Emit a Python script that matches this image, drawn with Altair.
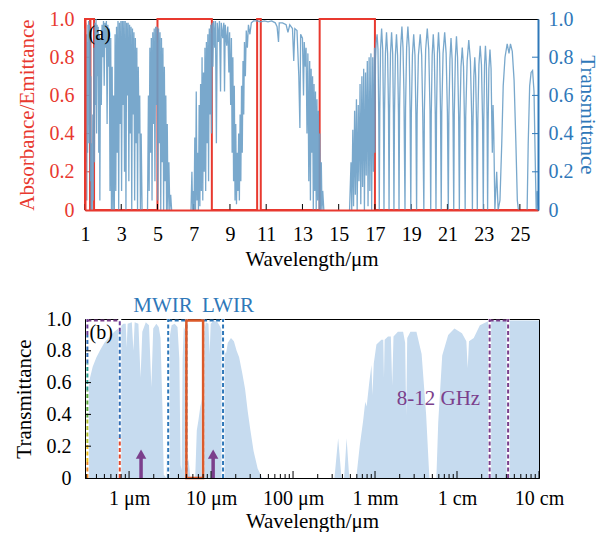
import altair as alt
import pandas as pd

# ---------------- data: panel (a) atmospheric transmittance (lambda um, T) ----------------
TRANS_SEG1 = [
    (1.00, 0.95), (1.02, 0.40), (1.04, 0.98), (1.06, 0.25), (1.08, 0.92), (1.10, 0.05), (1.12, 0.88),
    (1.14, 0.30), (1.16, 0.97), (1.18, 0.55), (1.20, 0.99), (1.22, 0.35), (1.24, 0.97), (1.26, 0.60),
    (1.28, 0.95), (1.30, 0.15), (1.32, 0.70), (1.34, 0.00), (1.37, 0.35), (1.40, 0.00), (1.43, 0.50),
    (1.46, 0.05), (1.49, 0.85), (1.52, 0.25), (1.55, 0.98), (1.58, 0.55), (1.61, 1.00), (1.64, 0.40),
    (1.67, 0.97), (1.70, 0.70), (1.73, 0.96), (1.76, 0.30), (1.79, 0.92), (1.82, 0.05),
    (1.86, 0.90), (1.90, 0.55), (1.94, 0.97), (1.98, 0.80), (2.02, 0.99), (2.06, 0.65), (2.10, 0.98),
    (2.14, 0.85), (2.18, 0.99), (2.22, 0.45), (2.26, 0.97), (2.30, 0.75), (2.34, 0.95), (2.38, 0.10),
    (2.42, 0.90), (2.46, 0.00), (2.50, 0.75), (2.54, 0.00), (2.58, 0.60), (2.62, 0.00),
    (2.66, 0.92), (2.70, 0.10), (2.74, 0.96), (2.78, 0.30), (2.82, 0.99), (2.86, 0.00), (2.90, 0.98),
    (2.94, 0.45), (2.98, 0.99), (3.02, 0.10), (3.06, 0.99), (3.10, 0.55), (3.14, 0.99), (3.18, 0.20),
    (3.22, 0.99), (3.26, 0.00), (3.30, 0.98), (3.34, 0.60), (3.38, 0.98), (3.42, 0.15), (3.46, 0.97),
    (3.50, 0.40), (3.54, 0.96), (3.58, 0.00), (3.62, 0.95), (3.66, 0.50), (3.70, 0.93), (3.74, 0.05),
    (3.78, 0.90), (3.82, 0.35), (3.86, 0.85), (3.90, 0.00), (3.94, 0.75), (3.98, 0.40), (4.02, 0.60),
    (4.06, 0.00), (4.10, 0.40), (4.15, 0.00),
]
TRANS_SEG2 = [
    (4.45, 0.00), (4.50, 0.60), (4.54, 0.10), (4.58, 0.85), (4.62, 0.30), (4.66, 0.90), (4.70, 0.05),
    (4.74, 0.93), (4.78, 0.45), (4.82, 0.95), (4.86, 0.15), (4.90, 0.96), (4.94, 0.55), (4.98, 0.96),
    (5.02, 0.05), (5.06, 0.95), (5.10, 0.35), (5.14, 0.93), (5.18, 0.00), (5.22, 0.90), (5.26, 0.25),
    (5.30, 0.85), (5.34, 0.00), (5.38, 0.75), (5.42, 0.15), (5.46, 0.60), (5.50, 0.00), (5.54, 0.45),
    (5.58, 0.00), (5.63, 0.25), (5.68, 0.00), (5.73, 0.08), (5.78, 0.00),
]
TRANS_SEG3 = [
    (6.85, 0.00), (6.90, 0.20), (6.94, 0.00), (6.98, 0.10), (7.02, 0.00), (7.06, 0.38), (7.10, 0.00),
    (7.14, 0.62), (7.18, 0.05), (7.22, 0.30), (7.26, 0.00), (7.30, 0.55), (7.34, 0.02), (7.38, 0.66),
    (7.42, 0.10), (7.46, 0.80), (7.50, 0.05), (7.54, 0.72), (7.58, 0.20), (7.62, 0.85), (7.66, 0.10),
    (7.70, 0.88), (7.74, 0.35), (7.78, 0.92), (7.82, 0.15), (7.86, 0.95), (7.90, 0.50), (7.94, 0.97),
    (7.98, 0.40),
    (8.02, 0.98), (8.06, 0.75), (8.10, 0.99), (8.16, 0.85), (8.20, 0.99), (8.25, 0.35), (8.30, 0.98),
    (8.36, 0.88), (8.42, 0.99), (8.48, 0.62), (8.52, 0.98), (8.60, 0.90), (8.66, 0.98), (8.70, 0.62),
    (8.74, 0.97), (8.82, 0.86), (8.88, 0.96), (8.94, 0.72), (8.98, 0.93), (9.04, 0.55), (9.08, 0.90),
    (9.12, 0.30), (9.16, 0.80), (9.20, 0.15), (9.24, 0.65), (9.28, 0.05), (9.32, 0.45), (9.36, 0.03),
    (9.40, 0.30), (9.44, 0.10), (9.48, 0.40), (9.52, 0.05), (9.56, 0.50), (9.60, 0.15), (9.64, 0.65),
    (9.68, 0.30), (9.72, 0.78), (9.76, 0.50), (9.80, 0.88), (9.85, 0.70), (9.90, 0.94), (9.96, 0.85),
    (10.02, 0.97), (10.10, 0.92), (10.18, 0.98), (10.30, 0.99), (10.50, 0.99),
    (10.70, 0.985), (10.90, 0.99), (11.10, 0.985), (11.30, 0.99), (11.50, 0.98), (11.60, 0.96),
    (11.68, 0.88), (11.72, 0.98), (11.90, 0.98), (12.10, 0.97), (12.20, 0.93), (12.30, 0.97),
    (12.45, 0.95), (12.52, 0.78), (12.58, 0.95), (12.70, 0.94), (12.80, 0.70), (12.86, 0.43),
    (12.90, 0.92), (13.00, 0.90), (13.06, 0.60), (13.10, 0.88), (13.16, 0.75), (13.20, 0.85),
    (13.25, 0.40), (13.30, 0.82),
    (13.35, 0.15), (13.40, 0.78), (13.44, 0.05), (13.48, 0.74), (13.52, 0.30), (13.56, 0.70),
    (13.60, 0.00), (13.64, 0.66), (13.68, 0.10), (13.72, 0.62), (13.76, 0.00), (13.80, 0.58),
    (13.84, 0.05), (13.88, 0.52), (13.92, 0.00), (13.96, 0.40), (14.00, 0.00), (14.04, 0.25),
    (14.08, 0.00), (14.12, 0.10), (14.18, 0.00),
]
TRANS_SEG4 = [
    (15.60, 0.00), (15.68, 0.25), (15.72, 0.00), (15.78, 0.42), (15.82, 0.02), (15.88, 0.52),
    (15.92, 0.08), (15.98, 0.58), (16.02, 0.00), (16.08, 0.55), (16.12, 0.15), (16.18, 0.66),
    (16.22, 0.03), (16.28, 0.70), (16.32, 0.12), (16.38, 0.74), (16.42, 0.00), (16.48, 0.72),
    (16.52, 0.18), (16.58, 0.78), (16.62, 0.02), (16.68, 0.80), (16.72, 0.10), (16.78, 0.82),
    (16.82, 0.00), (16.88, 0.80), (16.92, 0.20), (16.98, 0.85),
]
TRANS_SEG5 = [
    (17.00, 0.30), (17.03, 0.78), (17.07, 0.88), (17.12, 0.92), (17.17, 0.84), (17.21, 0.50), (17.24, 0.00),
    (17.27, 0.52), (17.31, 0.84), (17.37, 0.95), (17.43, 0.84), (17.47, 0.52), (17.50, 0.00),
    (17.53, 0.51), (17.58, 0.82), (17.64, 0.93), (17.70, 0.82), (17.75, 0.51), (17.78, 0.00),
    (17.81, 0.51), (17.86, 0.82), (17.92, 0.93), (17.98, 0.82), (18.02, 0.51), (18.05, 0.00),
    (18.08, 0.50), (18.13, 0.81), (18.19, 0.92), (18.25, 0.81), (18.30, 0.50), (18.33, 0.00),
    (18.36, 0.53), (18.42, 0.85), (18.49, 0.96), (18.55, 0.85), (18.60, 0.62), (18.63, 0.30), (18.66, 0.00),
    (18.69, 0.53), (18.75, 0.85), (18.82, 0.96), (18.89, 0.85), (18.94, 0.53), (18.98, 0.00),
    (19.01, 0.50), (19.07, 0.81), (19.14, 0.92), (19.21, 0.81), (19.26, 0.50), (19.30, 0.00),
    (19.33, 0.50), (19.40, 0.81), (19.50, 0.92), (19.58, 0.81), (19.64, 0.50), (19.70, 0.00),
    (19.73, 0.52), (19.80, 0.84), (19.89, 0.95), (19.97, 0.84), (20.04, 0.52), (20.08, 0.00),
    (20.11, 0.50), (20.16, 0.81), (20.22, 0.92), (20.28, 0.81), (20.33, 0.50), (20.37, 0.00),
    (20.40, 0.51), (20.45, 0.82), (20.51, 0.93), (20.57, 0.82), (20.62, 0.51), (20.66, 0.00),
    (20.69, 0.51), (20.76, 0.82), (20.85, 0.93), (20.93, 0.82), (21.00, 0.51), (21.05, 0.00),
    (21.08, 0.49), (21.14, 0.79), (21.20, 0.90), (21.26, 0.79), (21.31, 0.49), (21.35, 0.00),
    (21.38, 0.50), (21.44, 0.80), (21.50, 0.91), (21.56, 0.80), (21.62, 0.50), (21.66, 0.00),
    (21.69, 0.47), (21.75, 0.75), (21.82, 0.85), (21.89, 0.75), (21.94, 0.47), (21.98, 0.00),
    (22.01, 0.49), (22.09, 0.78), (22.18, 0.89), (22.27, 0.78), (22.34, 0.49), (22.38, 0.00),
    (22.41, 0.44), (22.46, 0.70), (22.51, 0.80), (22.56, 0.70), (22.61, 0.44), (22.65, 0.00),
    (22.68, 0.47), (22.74, 0.76), (22.81, 0.86), (22.88, 0.76), (22.94, 0.47), (22.98, 0.00),
    (23.01, 0.47), (23.05, 0.76), (23.10, 0.86), (23.15, 0.76), (23.19, 0.47), (23.22, 0.00),
    (23.25, 0.46), (23.29, 0.74), (23.35, 0.84), (23.41, 0.74), (23.45, 0.46), (23.48, 0.30),
    (23.52, 0.55), (23.56, 0.40), (23.62, 0.00), (23.72, 0.20), (23.80, 0.00), (23.90, 0.05),
    (24.00, 0.35), (24.08, 0.65), (24.18, 0.80), (24.30, 0.87), (24.40, 0.82), (24.48, 0.87),
    (24.58, 0.83), (24.68, 0.68), (24.78, 0.35), (24.86, 0.05), (24.92, 0.00),
]
TRANS_SEG6 = [
    (25.40, 0.00), (25.46, 0.35), (25.54, 0.65), (25.62, 0.72), (25.70, 0.73), (25.78, 0.62),
    (25.84, 0.30), (25.90, 0.00), (25.96, 0.10), (26.00, 0.00),
]

# panel (a) emitter absorbance/emittance (step profile)
EMIT_LAM = [1.0, 1.0, 1.28, 1.28, 1.30, 1.30, 1.5, 1.5, 5.0, 5.0, 8.0, 8.0, 10.5, 10.5, 10.7, 10.7,
            13.95, 13.95, 17.0, 17.0, 26.0]
EMIT_VAL = [0, 1, 1, 0, 0, 1, 1, 0, 0, 1, 1, 0, 0, 1, 1, 0, 0, 1, 1, 0, 0]

X_TICKS_TOP = [1, 3, 5, 7, 9, 11, 13, 15, 17, 19, 21, 23, 25]
Y_TICKS = [0, 0.2, 0.4, 0.6, 0.8, 1.0]
Y_INNER = [0.2, 0.4, 0.6, 0.8]

# ---------------- data: panel (b) broadband transmittance ----------------
BOT_LAM = [0.29, 0.31, 0.33, 0.36, 0.40, 0.45, 0.50, 0.58, 0.66, 0.74, 0.76, 0.775, 0.85, 0.91, 0.935,
           0.96, 1.08, 1.13, 1.17, 1.30, 1.38, 1.45, 1.6, 1.75, 1.87, 1.97, 2.15, 2.3, 2.42, 2.55, 2.65,
           2.85, 2.95, 3.05, 3.3, 3.6, 3.9, 4.1, 4.25, 4.38, 4.5, 4.65, 4.85, 5.0, 5.1, 5.35, 5.6, 6.4,
           6.7, 7.0, 7.4, 7.8, 8.0, 8.2, 8.6, 9.3, 9.6, 9.9, 10.8, 12.0, 13.0, 14.0, 14.6, 15.2, 16.0,
           17.5, 19.0, 20.5, 22.0, 24.0, 26.0, 28.0, 30.0, 33.0, 37.0, 42.0,
           320, 355, 390, 420, 450, 485, 590, 650, 716, 760, 790, 850, 905, 930, 965, 1040, 1195, 1260,
           1285, 1310, 1440, 1560, 1620, 1680, 1900, 2200, 2330, 2400, 2470, 2700, 3200, 3700, 4200,
           4600, 5600, 5900, 6600, 7800, 9300, 11500, 13000, 13500, 14000, 16000, 19000, 25000, 100000]
BOT_T = [0.50, 0.56, 0.62, 0.70, 0.76, 0.81, 0.85, 0.89, 0.92, 0.94, 0.88, 0.95, 0.97, 0.97, 0.82,
         0.97, 0.98, 0.80, 0.98, 0.97, 0.63, 0.92, 0.98, 0.96, 0.57, 0.94, 0.97, 0.95, 0.88, 0.45, 0.02,
         0.0, 0.40, 0.85, 0.96, 0.97, 0.95, 0.75, 0.08, 0.05, 0.75, 0.95, 0.93, 0.55, 0.15, 0.10, 0.0, 0.0,
         0.30, 0.36, 0.45, 0.50, 0.62, 0.90, 0.98, 0.97, 0.78, 0.97, 0.99, 0.98, 0.95, 0.90, 0.80, 0.78, 0.85,
         0.88, 0.86, 0.80, 0.76, 0.66, 0.56, 0.42, 0.31, 0.17, 0.06, 0.0,
         0.0, 0.25, 0.0, 0.0, 0.25, 0.0, 0.0, 0.20, 0.36, 0.48, 0.45, 0.60, 0.71, 0.52, 0.72, 0.84, 0.87, 0.87,
         0.63, 0.87, 0.89, 0.89, 0.58, 0.89, 0.92, 0.92, 0.85, 0.39, 0.88, 0.92, 0.92, 0.78, 0.40,
         0.0, 0.0, 0.35, 0.77, 0.90, 0.94, 0.91, 0.86, 0.69, 0.86, 0.88, 0.96, 0.99, 0.99]

BOT_MAJOR = [1, 10, 100, 1000, 10000, 100000]
BOT_LABELS = ["1 μm", "10 μm", "100 μm", "1 mm", "1 cm", "10 cm"]
MINOR_MULT = [2, 3, 4, 5, 6, 7, 8, 9]
DECADES = [0.1, 1, 10, 100, 1000, 10000]

VIS_BAND = [0.31, 0.77]          # visible band edges (um)
MWIR_BAND = [3.0, 5.0]
LWIR_BAND = [8.0, 14.0]
EMIT_BAND = [5.0, 8.0]
XBAND = [25000, 42000]           # 8-12 GHz window (um)
ARROW_LAM = [1.4, 10.6]
VIS_LEFT_STOPS = [1.0, 0.9, 0.72, 0.55, 0.38, 0.22, 0.1, 0.0]
VIS_RIGHT_STOPS = [1.0, 0.92, 0.25, 0.0]

# ---------------- styles ----------------
SERIF = "Liberation Serif"
RED = "#e8392f"
BLUE_AX = "#2f78b9"
LINE_BLUE = "#6a9ec6"
FILL = "#c6dbef"
PURPLE = "#7b3f8c"
ORANGE = "#dc5a2a"
VIS_LEFT_COLORS = ["#6a3d9a", "#2f6db5", "#2a9d8f", "#5aa83c", "#b5c330", "#f2c11d", "#f08a24"]
VIS_RIGHT_COLORS = ["#6a3d9a", "#2f6db5", "#e2472b"]
W1, H1 = 453, 191
W2, H2 = 454, 159
LAB = "datum.value == 0 ? '0' : format(datum.value, '.1f')"
AX = dict(labelFont=SERIF, titleFont=SERIF, labelFontSize=20, titleFontSize=21,
          titleFontWeight="normal", ticks=False, grid=False, zindex=1)

# ---------------- tables ----------------
rows, seg, idx = [], 0, 0
for s in [TRANS_SEG1, TRANS_SEG2, TRANS_SEG3, TRANS_SEG4 + TRANS_SEG5, TRANS_SEG6]:
    for lam, t in s:
        rows.append({"lam": lam, "t": t, "seg": seg, "i": idx})
        idx += 1
    seg += 1
top_df = pd.DataFrame(rows)
emit_df = pd.DataFrame({"lam": EMIT_LAM, "e": EMIT_VAL, "i": list(range(len(EMIT_LAM)))})

# ---------------- panel (a) ----------------
x_top = alt.X("lam:Q", scale=alt.Scale(domain=[1, 26], nice=False, zero=False),
              axis=alt.Axis(values=X_TICKS_TOP, title="Wavelength/μm", labelPadding=14, titlePadding=4,
                            domainColor=RED, domainWidth=2, labelFlush=False, labelOverlap=False, **AX))
y_left = alt.Y("e:Q", scale=alt.Scale(domain=[0, 1], nice=False),
               axis=alt.Axis(values=Y_TICKS, labelExpr=LAB, title="Absorbance/Emittance", titleColor=RED,
                             labelColor=RED, domainColor=RED, domainWidth=2, labelPadding=11,
                             titlePadding=12, **AX))
y_right = alt.Y("t:Q", scale=alt.Scale(domain=[0, 1], nice=False),
                axis=alt.Axis(orient="right", values=Y_TICKS, labelExpr=LAB, title="Transmittance",
                              titleColor=BLUE_AX, labelColor=BLUE_AX, domainColor=BLUE_AX, domainWidth=2,
                              labelPadding=10, titlePadding=3, **AX))

red_line = alt.Chart(emit_df).mark_line(color=RED, strokeWidth=2).encode(
    x=x_top, y=y_left, order="i:Q")
red_ticks = alt.Chart(pd.DataFrame({"e": Y_INNER})).mark_rule(color=RED).encode(
    y=y_left, x=alt.value(0), x2=alt.value(6))
xt_top = alt.Chart(pd.DataFrame({"lam": X_TICKS_TOP})).mark_rule(color="black").encode(
    x=x_top, y=alt.value(H1), y2=alt.value(H1 - 6))
left_grp = alt.layer(red_line, red_ticks, xt_top)

blue_line = alt.Chart(top_df).mark_line(color=LINE_BLUE, strokeWidth=1.3, opacity=0.9).encode(
    x=x_top, y=y_right, detail="seg:N", order="i:Q")
blue_ticks = alt.Chart(pd.DataFrame({"t": Y_INNER})).mark_rule(color=BLUE_AX).encode(
    y=y_right, x=alt.value(W1), x2=alt.value(W1 - 6))
label_a = alt.Chart(pd.DataFrame({"lam": [1.2], "t": [0.975], "s": ["(a)"]})).mark_text(
    align="left", baseline="top", font=SERIF, fontSize=20, color="black").encode(
    x=x_top, y=y_right, text="s:N")
right_grp = alt.layer(blue_line, blue_ticks, label_a)

top = alt.layer(left_grp, right_grp).resolve_scale(y="independent").properties(width=W1, height=H1)

# ---------------- panel (b) ----------------
lab_expr = " : ".join(f"datum.value == {v} ? '{s}'" for v, s in zip(BOT_MAJOR, BOT_LABELS)) + " : ''"
x_bot = alt.X("lam:Q", scale=alt.Scale(type="log", domain=[0.29, 100000], nice=False),
              axis=alt.Axis(values=BOT_MAJOR, labelExpr=lab_expr, title="Wavelength/μm", labelPadding=10,
                            titlePadding=2, domainColor="black", labelFlush=False, labelOverlap=False, **AX))
y_bot = alt.Y("t:Q", scale=alt.Scale(domain=[0, 1], nice=False),
              axis=alt.Axis(values=Y_TICKS, labelExpr=LAB, title="Transmittance", labelPadding=14,
                            titlePadding=12, domainColor="black", **AX))

area = alt.Chart(pd.DataFrame({"lam": BOT_LAM, "t": BOT_T})).mark_area(color=FILL, opacity=1).encode(
    x=x_bot, y=y_bot)


def vsegs(lam, stops, colors):
    return pd.DataFrame({"lam": [lam] * (len(stops) - 1), "t": stops[1:], "t2": stops[:-1], "c": colors})


vis_df = pd.concat([vsegs(VIS_BAND[0], VIS_LEFT_STOPS, VIS_LEFT_COLORS),
                    vsegs(VIS_BAND[1], VIS_RIGHT_STOPS, VIS_RIGHT_COLORS)])
vis_white = alt.Chart(vis_df).mark_rule(color="white", strokeWidth=3).encode(x=x_bot, y=y_bot, y2="t2:Q")
vis_dash = alt.Chart(vis_df).mark_rule(strokeWidth=2, strokeDash=[4, 2.5]).encode(
    x=x_bot, y=y_bot, y2="t2:Q", color=alt.Color("c:N", scale=None))
vis_top = alt.Chart(pd.DataFrame({"lam": [VIS_BAND[0]], "lam2": [VIS_BAND[1]], "t": [0.99]})).mark_rule(
    color=PURPLE, strokeWidth=2, strokeDash=[4, 2.5]).encode(x=x_bot, x2="lam2:Q", y=y_bot)


def dashed_box(band, color):
    v = pd.DataFrame({"lam": band, "t": [0, 0], "t2": [1, 1]})
    h = pd.DataFrame({"lam": [band[0]], "lam2": [band[1]], "t": [0.99]})
    w = alt.Chart(v).mark_rule(color="white", strokeWidth=3).encode(x=x_bot, y=y_bot, y2="t2:Q")
    d = alt.Chart(v).mark_rule(color=color, strokeWidth=2, strokeDash=[4, 2.5]).encode(
        x=x_bot, y=y_bot, y2="t2:Q")
    t = alt.Chart(h).mark_rule(color=color, strokeWidth=2, strokeDash=[4, 2.5]).encode(
        x=x_bot, x2="lam2:Q", y=y_bot)
    return [w, d, t]


emit_box = alt.Chart(pd.DataFrame({"lam": [EMIT_BAND[0]], "lam2": [EMIT_BAND[1]], "t": [0.0], "t2": [0.99]})
                     ).mark_rect(filled=False, stroke=ORANGE, strokeWidth=2.5).encode(
    x=x_bot, x2="lam2:Q", y=y_bot, y2="t2:Q")

arr_df = pd.DataFrame({"lam": ARROW_LAM, "t": [0.0, 0.0], "t2": [0.13, 0.13]})
arrow_shaft = alt.Chart(arr_df).mark_rule(color=PURPLE, strokeWidth=3.5).encode(x=x_bot, y=y_bot, y2="t2:Q")
arrow_head = alt.Chart(pd.DataFrame({"lam": ARROW_LAM, "t": [0.15, 0.15]})).mark_point(
    shape="triangle-up", filled=True, size=110, color=PURPLE, opacity=1).encode(x=x_bot, y=y_bot)

band_labels = alt.Chart(pd.DataFrame({"lam": [2.59, 16.1], "t": [1.0, 1.0], "s": ["MWIR", "LWIR"]})).mark_text(
    baseline="bottom", dy=-3, font=SERIF, fontSize=21, color=BLUE_AX).encode(x=x_bot, y=y_bot, text="s:N")
ghz_label = alt.Chart(pd.DataFrame({"lam": [5940], "t": [0.5], "s": ["8-12 GHz"]})).mark_text(
    font=SERIF, fontSize=21, color=PURPLE).encode(x=x_bot, y=y_bot, text="s:N")
label_b = alt.Chart(pd.DataFrame({"lam": [0.33], "t": [0.975], "s": ["(b)"]})).mark_text(
    align="left", baseline="top", font=SERIF, fontSize=20, color="black").encode(x=x_bot, y=y_bot, text="s:N")

minor_vals = [d * m for d in DECADES for m in MINOR_MULT if 0.29 <= d * m <= 100000]
major_ticks = alt.Chart(pd.DataFrame({"lam": BOT_MAJOR})).mark_rule(color="black").encode(
    x=x_bot, y=alt.value(H2), y2=alt.value(H2 - 7))
minor_ticks = alt.Chart(pd.DataFrame({"lam": minor_vals})).mark_rule(color="black").encode(
    x=x_bot, y=alt.value(H2), y2=alt.value(H2 - 4))
left_ticks_b = alt.Chart(pd.DataFrame({"t": Y_INNER})).mark_rule(color="black").encode(
    y=y_bot, x=alt.value(0), x2=alt.value(6))

bottom = alt.layer(
    area, vis_white, vis_dash, vis_top,
    *dashed_box(MWIR_BAND, BLUE_AX), *dashed_box(LWIR_BAND, BLUE_AX), emit_box,
    *dashed_box(XBAND, PURPLE),
    arrow_shaft, arrow_head, band_labels, ghz_label, label_b,
    major_ticks, minor_ticks, left_ticks_b,
).properties(width=W2, height=H2)

chart = alt.vconcat(top, bottom, spacing=24).properties(
    padding={"left": 4, "top": 0, "right": 1, "bottom": 0}
).configure_text(font=SERIF).configure_view(stroke="black", strokeWidth=1)

chart.save("out.html", embed_options={"renderer": "svg", "actions": False})
